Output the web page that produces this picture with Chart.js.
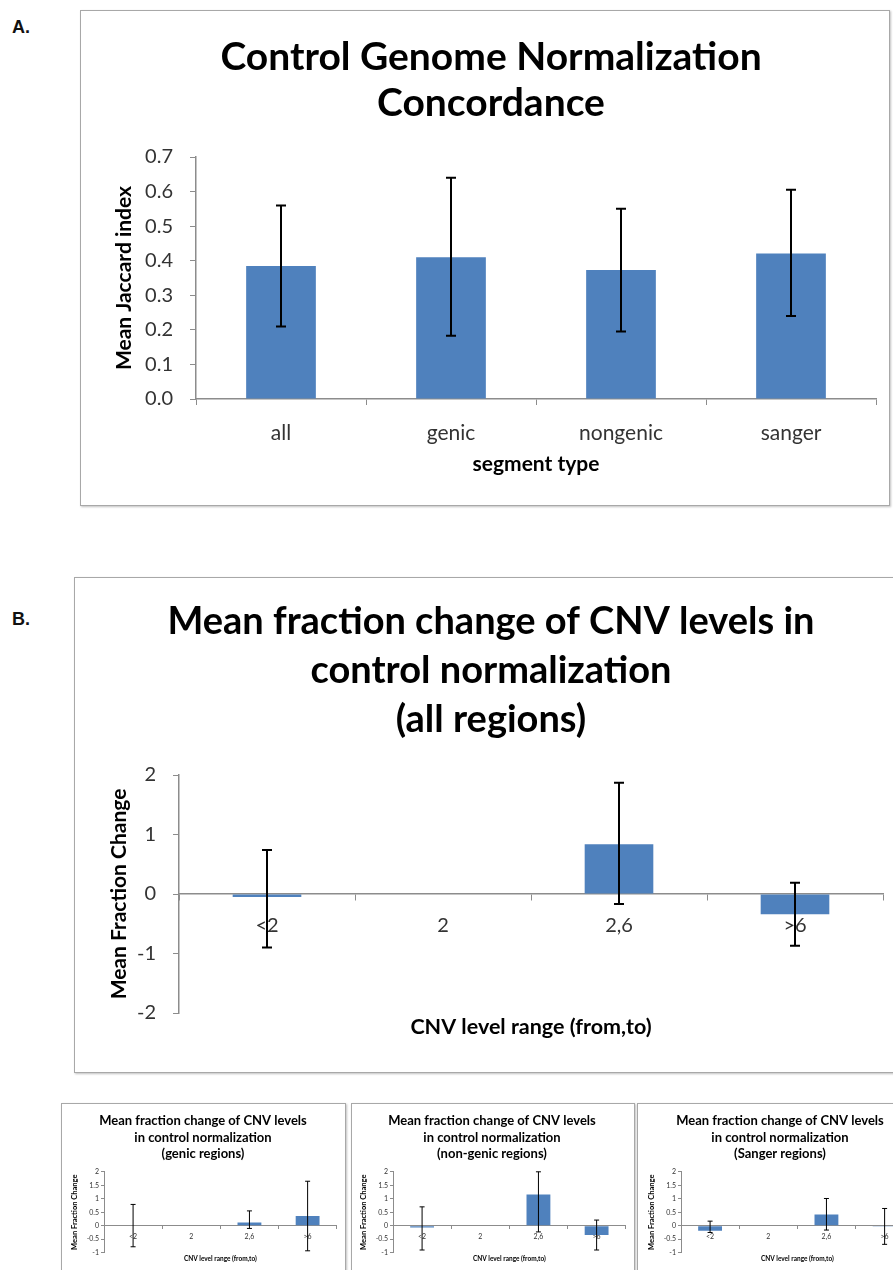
<!DOCTYPE html>
<html>
<head>
<meta charset="utf-8">
<script src="https://cdn.jsdelivr.net/npm/chart.js@4.4.1/dist/chart.umd.min.js"></script>
<style>
  body { margin: 0; width: 893px; height: 1270px; overflow: hidden; background: #fff; position: relative; }
  .box { position: absolute; border: 1.5px solid #a8a8a8; box-shadow: 1px 1px 2px rgba(0,0,0,0.25); pointer-events: none; }
  canvas { position: absolute; }
  .tag { position: absolute; font: bold 18px "Liberation Sans", Arial, sans-serif; color: #111; }
</style>
</head>
<body>
<div class="tag" style="left:12px;top:17px">A.</div>
<div class="tag" style="left:12px;top:609px">B.</div>

<div class="box" style="left:80px;top:10px;width:808px;height:494px"></div>
<div class="box" style="left:74px;top:577px;width:840px;height:494px"></div>
<div class="box" style="left:61px;top:1103px;width:283px;height:200px"></div>
<div class="box" style="left:351px;top:1103px;width:282px;height:200px"></div>
<div class="box" style="left:637px;top:1103px;width:283px;height:200px"></div>

<canvas id="chartA" width="822" height="495" style="left:80px;top:10px"></canvas>
<canvas id="chartB" width="834" height="495" style="left:74px;top:577px"></canvas>
<canvas id="chartGenic" width="284" height="170" style="left:61px;top:1103px"></canvas>
<canvas id="chartNongenic" width="284" height="170" style="left:350px;top:1103px"></canvas>
<canvas id="chartSanger" width="284" height="170" style="left:638px;top:1103px"></canvas>

<script>
// Panel A data
const segmentTypes = ['all', 'genic', 'nongenic', 'sanger'];
const jaccardMean = [0.385, 0.41, 0.373, 0.421];
const jaccardHigh = [0.56, 0.64, 0.55, 0.605];
const jaccardLow = [0.21, 0.183, 0.195, 0.24];

// CNV panels data
const cnvRanges = ['<2', '2', '2,6', '>6'];

const allMean = [-0.05, null, 0.835, -0.34];
const allHigh = [0.74, null, 1.87, 0.19];
const allLow = [-0.9, null, -0.17, -0.87];

const genicMean = [0, null, 0.12, 0.36];
const genicHigh = [0.79, null, 0.55, 1.65];
const genicLow = [-0.78, null, -0.1, -0.93];

const nongenicMean = [-0.07, null, 1.16, -0.34];
const nongenicHigh = [0.7, null, 2.0, 0.21];
const nongenicLow = [-0.9, null, -0.23, -0.9];

const sangerMean = [-0.19, null, 0.42, -0.03];
const sangerHigh = [0.17, null, 1.01, 0.64];
const sangerLow = [-0.25, null, -0.16, -0.69];

const BAR_BLUE = '#4f81bd';
const AXIS_GRAY = '#8c8c8c';
const TICK_TEXT = '#333';

Chart.defaults.font.family = 'Lato';
Chart.defaults.color = TICK_TEXT;

// error bars drawn from the high/low arrays through the y scale
const errorBars = {
    id: 'errorBars',
    afterDatasetsDraw(chart, args, opts) {
        const ctx = chart.ctx;
        const y = chart.scales.y;
        const meta = chart.getDatasetMeta(0);
        ctx.save();
        ctx.strokeStyle = '#000';
        ctx.lineWidth = opts.width;
        meta.data.forEach((bar, i) => {
            const hi = opts.high[i];
            const lo = opts.low[i];
            if (hi == null || lo == null) return;
            const yh = y.getPixelForValue(hi);
            const yl = y.getPixelForValue(lo);
            ctx.beginPath();
            ctx.moveTo(bar.x, yh);
            ctx.lineTo(bar.x, yl);
            ctx.moveTo(bar.x - opts.cap, yh);
            ctx.lineTo(bar.x + opts.cap, yh);
            ctx.moveTo(bar.x - opts.cap, yl);
            ctx.lineTo(bar.x + opts.cap, yl);
            ctx.stroke();
        });
        ctx.restore();
    }
};

// empty right axis, only keeps room right of the plot so the title stays centred on the box
function spacerAxis(w) {
    return {
        type: 'linear',
        position: 'right',
        ticks: { display: false },
        grid: { display: false },
        border: { display: false },
        afterFit: (s) => { s.width = w; }
    };
}

// Panel A
new Chart(document.getElementById('chartA'), {
    type: 'bar',
    data: {
        labels: segmentTypes,
        datasets: [{
            data: jaccardMean,
            backgroundColor: BAR_BLUE,
            barPercentage: 0.41,
            categoryPercentage: 1
        }]
    },
    options: {
        responsive: false,
        animation: false,
        layout: { padding: 0 },
        plugins: {
            legend: { display: false },
            tooltip: { enabled: false },
            title: {
                display: true,
                text: ['Control Genome Normalization', 'Concordance'],
                color: '#000',
                font: { size: 39, weight: 'bold', lineHeight: 46 / 39 },
                padding: { top: 24, bottom: 31 }
            },
            errorBars: { high: jaccardHigh, low: jaccardLow, width: 2, cap: 5 }
        },
        scales: {
            y: {
                min: 0,
                max: 0.7,
                afterFit: (s) => { s.width = 116; },
                ticks: {
                    stepSize: 0.1,
                    padding: 17,
                    font: { size: 20 },
                    callback: (v) => v.toFixed(1)
                },
                grid: { drawOnChartArea: false, drawTicks: true, tickLength: 6, color: AXIS_GRAY },
                border: { color: AXIS_GRAY, width: 1.5 },
                title: {
                    display: true,
                    text: 'Mean Jaccard index',
                    color: '#000',
                    font: { size: 21, weight: 'bold' },
                    padding: { top: 32, bottom: 0 }
                }
            },
            x: {
                afterFit: (s) => { s.height = 106; },
                ticks: { padding: 16, font: { size: 21 } },
                grid: { offset: true, drawOnChartArea: false, drawTicks: true, tickLength: 6, color: AXIS_GRAY },
                border: { color: AXIS_GRAY, width: 1.5 },
                title: {
                    display: true,
                    text: 'segment type',
                    color: '#000',
                    font: { size: 21, weight: 'bold' },
                    padding: { top: 0, bottom: 28 }
                }
            },
            ySpacer: spacerAxis(26)
        }
    },
    plugins: [errorBars]
});

// CNV level charts (big one and the three small ones)
function cnvChart(id, title, mean, high, low, s) {
    return new Chart(document.getElementById(id), {
        type: 'bar',
        data: {
            labels: cnvRanges,
            datasets: [{
                data: mean,
                backgroundColor: BAR_BLUE,
                barPercentage: s.barPct,
                categoryPercentage: 1
            }]
        },
        options: {
            responsive: false,
            animation: false,
            layout: { padding: 0 },
            plugins: {
                legend: { display: false },
                tooltip: { enabled: false },
                title: {
                    display: true,
                    text: title,
                    color: '#000',
                    font: { size: s.titleSize, weight: 'bold', lineHeight: s.titleLine / s.titleSize },
                    padding: { top: s.titleTop, bottom: s.titleBottom }
                },
                subtitle: {
                    display: true,
                    position: 'bottom',
                    fullSize: false,
                    text: 'CNV level range (from,to)',
                    color: '#000',
                    font: { size: s.xTitleSize, weight: 'bold' },
                    padding: { top: s.xTitleTop, bottom: s.xTitleBottom }
                },
                errorBars: { high: high, low: low, width: s.errWidth, cap: s.cap }
            },
            scales: {
                y: {
                    min: s.yMin,
                    max: s.yMax,
                    afterFit: (sc) => { sc.width = s.yWidth; },
                    ticks: {
                        stepSize: s.yStep,
                        padding: s.yTickPad,
                        font: { size: s.tickSize },
                        callback: (v) => String(v)
                    },
                    grid: { drawOnChartArea: false, drawTicks: true, tickLength: s.tickLen, color: AXIS_GRAY },
                    border: { color: AXIS_GRAY, width: s.axisWidth },
                    title: {
                        display: true,
                        text: 'Mean Fraction Change',
                        color: '#000',
                        font: { size: s.yTitleSize, weight: 'bold' },
                        padding: { top: s.yTitlePad, bottom: 0 }
                    }
                },
                x: {
                    position: { y: 0 },
                    ticks: { padding: s.xTickPad, font: { size: s.tickSize } },
                    grid: { offset: true, drawOnChartArea: false, drawTicks: true, tickLength: s.tickLen, color: AXIS_GRAY },
                    border: { color: AXIS_GRAY, width: s.axisWidth }
                },
                ySpacer: spacerAxis(s.padRight)
            }
        },
        plugins: [errorBars]
    });
}

const bigStyle = {
    barPct: 0.39, padRight: 25,
    titleSize: 38, titleLine: 49, titleTop: 20.5, titleBottom: 30.5,
    xTitleSize: 21.5, xTitleTop: 1, xTitleBottom: 32.2,
    yMin: -2, yMax: 2, yStep: 1, yWidth: 105, yTickPad: 17,
    tickSize: 20, tickLen: 6, axisWidth: 1.5,
    yTitleSize: 21, yTitlePad: 33, xTickPad: 13.6,
    errWidth: 2, cap: 5
};

const smallStyle = {
    barPct: 0.41, padRight: 8.3,
    titleSize: 13, titleLine: 16.7, titleTop: 9.3, titleBottom: 9.4,
    xTitleSize: 6.5, xTitleTop: 2.4, xTitleBottom: 10.1,
    yMin: -1, yMax: 2, yStep: 0.5, yWidth: 43, yTickPad: 2,
    tickSize: 7, tickLen: 3, axisWidth: 1,
    yTitleSize: 7.5, yTitlePad: 9.5, xTickPad: 3.8,
    errWidth: 1, cap: 2.5
};

cnvChart('chartB',
    ['Mean fraction change of CNV levels in', 'control normalization', '(all regions)'],
    allMean, allHigh, allLow, bigStyle);

cnvChart('chartGenic',
    ['Mean fraction change of CNV levels', 'in control normalization', '(genic regions)'],
    genicMean, genicHigh, genicLow, smallStyle);

cnvChart('chartNongenic',
    ['Mean fraction change of CNV levels', 'in control normalization', '(non-genic regions)'],
    nongenicMean, nongenicHigh, nongenicLow, smallStyle);

cnvChart('chartSanger',
    ['Mean fraction change of CNV levels', 'in control normalization', '(Sanger regions)'],
    sangerMean, sangerHigh, sangerLow, smallStyle);
</script>
</body>
</html>
